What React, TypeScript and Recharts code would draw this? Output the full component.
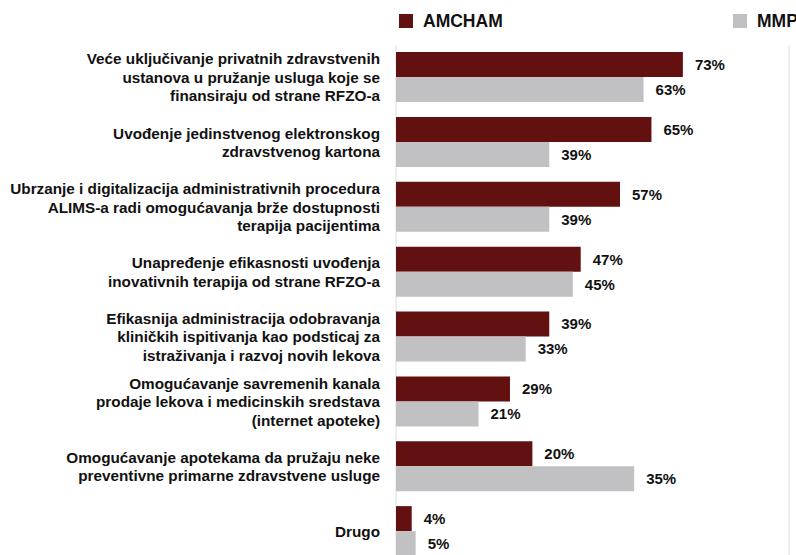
import React from "react";
import { BarChart, Bar, XAxis, YAxis, CartesianGrid, Legend, LabelList } from "recharts";

const categories = [
  "Veće uključivanje privatnih zdravstvenih\nustanova u pružanje usluga koje se\nfinansiraju od strane RFZO-a",
  "Uvođenje jedinstvenog elektronskog\nzdravstvenog kartona",
  "Ubrzanje i digitalizacija administrativnih procedura\nALIMS-a radi omogućavanja brže dostupnosti\nterapija pacijentima",
  "Unapređenje efikasnosti uvođenja\ninovativnih terapija od strane RFZO-a",
  "Efikasnija administracija odobravanja\nkliničkih ispitivanja kao podsticaj za\nistraživanja i razvoj novih lekova",
  "Omogućavanje savremenih kanala\nprodaje lekova i medicinskih sredstava\n(internet apoteke)",
  "Omogućavanje apotekama da pružaju neke\npreventivne primarne zdravstvene usluge",
  "Drugo",
];

// bar lengths as drawn in the picture
const amchamValues = [73, 65, 57, 47, 39, 29, 34.7, 4];
const mmpValues = [63, 39, 39, 45, 33, 21, 60.6, 5];

// printed value labels
const amchamLabels = ["73%", "65%", "57%", "47%", "39%", "29%", "20%", "4%"];
const mmpLabels = ["63%", "39%", "39%", "45%", "33%", "21%", "35%", "5%"];

const gridTicks = [11.5, 23, 34.4, 45.9, 57.4, 68.9, 80.3, 91.8];

const seriesNames = ["AMCHAM", "MMP"];
const seriesColors = ["#621010", "#C1C1C3"];

const FONT = "'Liberation Sans', Arial, Helvetica, sans-serif";

const data = categories.map((c, i) => ({
  name: c,
  amcham: amchamValues[i],
  mmp: mmpValues[i],
  amchamLabel: amchamLabels[i],
  mmpLabel: mmpLabels[i],
}));

const CategoryTick = (props: any) => {
  const { x, y, payload } = props;
  const lines: string[] = String(payload.value).split("\n");
  const lh = 18.5;
  const start = -((lines.length - 1) / 2) * lh;
  return (
    <text
      x={x}
      y={y}
      textAnchor="end"
      fontFamily={FONT}
      fontSize={15.3}
      fontWeight={700}
      fill="#111"
    >
      {lines.map((l, i) => (
        <tspan key={i} x={x} y={y + start + i * lh + 5.5}>
          {l}
        </tspan>
      ))}
    </text>
  );
};

const makeValueLabel = (labels: string[]) => (props: any) => {
  const { x, y, width, height, index } = props;
  return (
    <text
      x={Number(x) + Number(width) + 12}
      y={Number(y) + Number(height) / 2 + 5.4}
      fontFamily={FONT}
      fontSize={15}
      fontWeight={700}
      fill="#111"
    >
      {labels[index]}
    </text>
  );
};

const legendX = [399, 733];

const LegendContent = (props: any) => {
  const payload = props.payload || [];
  return (
    <svg width={796} height={40} style={{ display: "block" }}>
      {payload.map((p: any, i: number) => (
        <g key={i}>
          <rect x={legendX[i]} y={14} width={14} height={14} fill={p.color} />
          <text
            x={legendX[i] + 24}
            y={26.5}
            fontFamily={FONT}
            fontSize={17.5}
            fontWeight={700}
            fill="#111"
          >
            {p.value}
          </text>
        </g>
      ))}
    </svg>
  );
};

export default function App() {
  return (
    <div
      style={{
        position: "absolute",
        left: 0,
        top: 0,
        width: 796,
        height: 555,
        overflow: "hidden",
        background: "#fff",
      }}
    >
      <BarChart
        width={796}
        height={570}
        data={data}
        layout="vertical"
        margin={{ top: 45, right: 7, bottom: 6, left: 0 }}
        barGap={0}
        barSize={25}
      >
        <CartesianGrid
          horizontal={false}
          vertical={true}
          stroke="#DEDEDE"
          strokeWidth={1}
        />
        <XAxis
          type="number"
          domain={[0, 100]}
          ticks={gridTicks}
          allowDataOverflow
          height={0}
          tick={false}
          axisLine={false}
          tickLine={false}
        />
        <YAxis
          type="category"
          dataKey="name"
          width={396}
          axisLine={false}
          tickLine={false}
          tickMargin={10}
          tick={<CategoryTick />}
          interval={0}
        />
        <Legend
          layout="horizontal"
          verticalAlign="middle"
          align="center"
          wrapperStyle={{ top: 0, left: 0, width: 796, height: 40 }}
          content={<LegendContent />}
        />
        <Bar
          dataKey="amcham"
          name={seriesNames[0]}
          fill={seriesColors[0]}
          isAnimationActive={false}
        >
          <LabelList dataKey="amchamLabel" content={makeValueLabel(amchamLabels)} />
        </Bar>
        <Bar
          dataKey="mmp"
          name={seriesNames[1]}
          fill={seriesColors[1]}
          isAnimationActive={false}
        >
          <LabelList dataKey="mmpLabel" content={makeValueLabel(mmpLabels)} />
        </Bar>
      </BarChart>
    </div>
  );
}
